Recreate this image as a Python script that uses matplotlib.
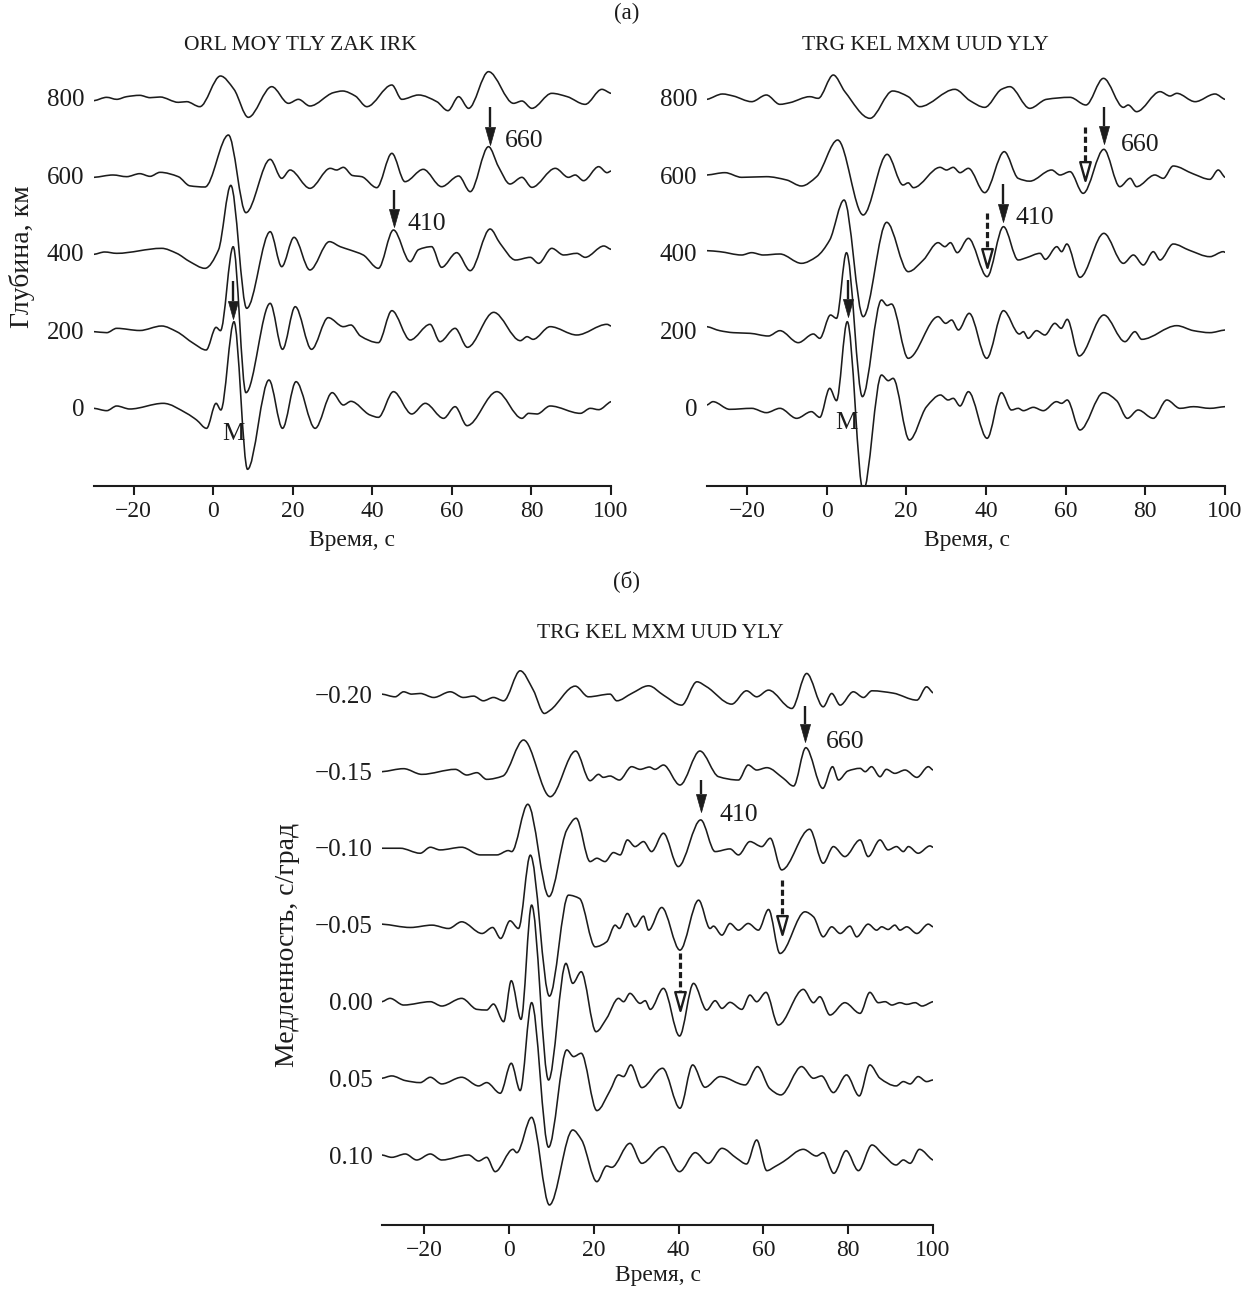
import numpy as np
import matplotlib
matplotlib.use("Agg")
import matplotlib.pyplot as plt
from matplotlib.path import Path
from matplotlib.patches import PathPatch

plt.rcParams['font.family'] = ['Liberation Serif', 'DejaVu Serif']
plt.rcParams['axes.unicode_minus'] = True

# ---------------- data ----------------
time_ticks = [-20, 0, 20, 40, 60, 80, 100]
depth_levels = [0, 200, 400, 600, 800]
slowness_levels = [-0.20, -0.15, -0.10, -0.05, 0.00, 0.05, 0.10]
title_left = "ORL MOY TLY ZAK IRK"
title_right = "TRG KEL MXM UUD YLY"

# panel (a) left: ORL MOY TLY ZAK IRK  (time s, relative amplitude)
orl_800_t = [-30, -26.8, -24.3, -21.8, -18.5, -15.9, -13.4, -8.8, -6.7, -3.4, 1.8, 5.2, 8.8, 14.7, 18.9, 21.4, 24.3, 30.2, 32.5, 35.7, 38.6, 44.9, 47.4, 51.6, 56.2, 59.0, 61.7, 64.2, 69.2, 75.5, 77.6, 80.1, 85.1, 89.0, 93.5, 97.7, 100]
orl_800_amp = [-8, 2, -4, 4, 8, 1, 3, -13, -11, -26, 66, 26, -58, 34, -16, -4, -24, 16, 21, 6, -26, 39, -4, 9, -11, -38, 4, -31, 79, -16, -9, -31, 14, 4, -19, 26, 14]
orl_600_t = [-30, -25.2, -21.8, -18.5, -15.9, -13.4, -8.8, -5.9, -2.1, 3.8, 8.2, 14.3, 17.2, 19.3, 24.3, 29.4, 31.0, 32.7, 35.0, 37.3, 41.1, 44.9, 48.2, 52.8, 57.4, 61.7, 64.6, 69.2, 71.7, 74.6, 77.6, 80.1, 86.0, 89.3, 91.0, 93.1, 96.9, 99.0, 100]
orl_600_amp = [-5.5, 1.5, -3.5, 5.5, -2.5, 9.5, -3.5, -31, -34.5, 121.5, -111.5, 48.5, -8.5, 16.5, -38.5, 21.5, 16.5, 24.5, 0, -3.5, -36.5, 66.5, -18.5, 18.5, -33.5, -1.5, -48.5, 86.5, 26.5, -25.5, -5.5, -35.5, 21.5, -5.5, 1.5, -15.5, 26.5, 8.5, 13.5]
orl_400_t = [-30, -27.3, -24.3, -13.0, -9.2, -5.9, -2.1, 1.3, 4.4, 8.4, 14.3, 17.2, 20.3, 24.3, 29.2, 31.9, 34.4, 37.7, 41.5, 45.3, 49.5, 51.6, 54.9, 57.4, 61.2, 64.6, 69.6, 72.1, 76.0, 79.7, 81.8, 85.1, 88.1, 91.4, 93.5, 98.2, 100]
orl_400_amp = [-4, 3, -1, 14, -1, -26, -46, 9, 203, -166, 64, -41, 47, -51, 34, 19, 9, -6, -46, 69, -26, 10, 19, -43, 1, -53, 72, 29, -21, -13, -31, 14, -6, -1, -13, 21, 11]
orl_200_t = [-30, -26.8, -24.3, -18.5, -13.0, -9.2, -5.0, -1.8, 0.7, 1.8, 5.0, 8.2, 14.3, 17.4, 20.6, 24.7, 28.9, 32.7, 34.6, 37.0, 41.5, 44.9, 49.5, 54.5, 57.0, 60.8, 63.9, 70.5, 77.2, 78.9, 80.4, 84.7, 91.4, 99.0, 100]
orl_200_amp = [-3.5, -6.5, 6.5, 0, 13.5, -3.5, -38.5, -58.5, 9.5, -0.5, 251.5, -186.5, 81.5, -56.5, 71.5, -56.5, 38.5, 11.5, 16.5, -16.5, -36.5, 59.5, -28.5, 18.5, -33.5, 6.5, -50.5, 54.5, -30.5, -18.5, -26.5, 11.5, -13.5, 18.5, 13.5]
orl_0_t = [-30, -26.8, -24.3, -21.0, -12.6, -6.7, -4.2, -1.7, 0.7, 1.9, 5.2, 8.6, 14.0, 17.4, 20.8, 25.6, 29.9, 32.7, 34.6, 39.4, 41.5, 45.3, 49.9, 53.3, 57.9, 60.8, 63.8, 71.3, 77.6, 79.3, 81.4, 84.7, 92.3, 94.8, 96.9, 100]
orl_0_amp = [-1, -8, 6, -3, 14, -16, -36, -61, 14, -6, 259, -184, 84, -61, 79, -61, 46, 9, 20, -21, -28, 49, -18, 14, -31, 4, -53, 49, -31, -16, -18, 6, -16, -1, -5, 19]

# panel (a) right: TRG KEL MXM UUD YLY
trg_800_t = [-30, -26.1, -23.4, -18.8, -15.1, -11.7, -9.2, -4.2, -2.1, 1.7, 4.6, 10.9, 16.6, 20.5, 23.4, 32.2, 36.0, 39.7, 43.9, 46.0, 51.0, 55.2, 61.1, 65.1, 69.5, 74.5, 75.7, 77.8, 83.7, 86.2, 87.9, 92.5, 97.5, 100]
trg_800_amp = [-4, 12, 6, -11, 9, -19, -14, 4, -1, 69, 19, -61, 21, 4, -26, 26, -8, -28, 26, 34, -31, -4, 2, -21, 59, -28, -21, -41, 19, 6, 14, -11, 12, -4]
trg_600_t = [-30, -25.5, -21.3, -15.1, -10.0, -6.3, -2.5, 2.8, 9.2, 15.2, 19.2, 20.5, 21.8, 28.5, 30.1, 31.8, 33.5, 35.6, 39.7, 44.6, 48.1, 51.0, 56.5, 58.6, 61.1, 64.4, 69.6, 73.6, 76.2, 77.8, 82.4, 84.5, 87.0, 92.1, 96.2, 98.3, 100]
trg_600_amp = [1.5, 8.5, -5.5, -3.5, -13.5, -31.5, -3.5, 106.5, -118.5, 63.5, -28.5, -22, -36.5, 24.5, 16.5, 24.5, 8.5, 21.5, -51.5, 71.5, -8.5, -17, 16.5, 1.5, 11.5, -53.5, 78.5, -33.5, -8.5, -33.5, 1.5, -8.5, 28.5, 4.5, -11.5, 16.5, -5.5]
trg_400_t = [-30, -26.8, -21.3, -18.8, -15.9, -11.7, -6.3, -2.5, 0.8, 4.4, 9.2, 15.1, 20.5, 24.3, 28.0, 29.7, 31.1, 32.8, 35.6, 40.3, 44.4, 48.1, 50.2, 53.6, 54.9, 57.8, 59.0, 60.3, 63.6, 69.6, 74.5, 77.0, 79.5, 82.0, 83.7, 87.0, 91.1, 96.2, 99.6, 100]
trg_400_amp = [7, 4, -6, 1, -6, -3, -31, -11, 39, 159, -191, 92, -56, -21, 31, 19, 31, 1, 44, -71, 79, -21, -14, -1, -19, 19, 4, 27, -73, 59, -31, -6, -36, 4, -21, 27, 8, -11, 4, 2]
trg_200_t = [-30, -26.8, -23.4, -19.2, -14.6, -11.7, -7.1, -3.3, -1.7, 1.0, 2.5, 5.0, 9.0, 13.8, 15.2, 16.3, 20.5, 28.0, 29.9, 31.4, 33.1, 35.8, 40.2, 44.4, 48.4, 49.4, 50.6, 52.7, 54.8, 57.3, 58.9, 60.4, 63.4, 69.6, 74.9, 77.4, 79.1, 87.9, 92.1, 96.2, 100]
trg_200_amp = [11.5, -0.5, -6.5, -8.5, -16.5, -0.5, -36.5, -10.5, -23.5, 46.5, 36.5, 233.5, -198.5, 91.5, 75, 79.5, -83.5, 41.5, 21.5, 31.5, 1.5, 51.5, -83.5, 59.5, -10.5, -3.5, -23.5, -0.5, -13.5, 21.5, 6.5, 33.5, -76.5, 46.5, -33.5, -3.5, -26.5, 14.5, -0.5, -6.5, 1.5]
trg_0_t = [-30, -28.5, -24.3, -18.8, -15.1, -11.7, -7.5, -3.8, -1.7, 0.8, 2.5, 5.2, 9.2, 13.8, 15.5, 16.7, 20.8, 25.1, 28.6, 30.5, 31.8, 33.5, 35.6, 40.3, 43.9, 46.4, 48.1, 49.4, 51.9, 54.4, 57.7, 59.0, 60.4, 63.6, 69.5, 72.8, 75.5, 78.2, 82.0, 85.4, 88.7, 92.1, 96.2, 100]
trg_0_amp = [9, 19, -4, -1, -14, -1, -31, -11, -28, 59, 22, 259, -250, 99, 82, 89, -96, 4, 39, 24, 29, 6, 49, -91, 46, -6, -1, -8, 2, -8, 19, 14, 24, -66, 46, 22, -31, -6, -31, 24, -1, 4, -1, 4]

# panel (b): slowness stack TRG KEL MXM UUD YLY
slow_m20_t = [-30, -26.9, -24.9, -23.0, -21.0, -17.8, -13.9, -10.8, -8.4, -6.1, -3.7, -1.3, 2.6, 5.7, 8.3, 9.7, 15.6, 18.7, 23.8, 25.4, 28.9, 32.9, 36.4, 40.7, 44.3, 46.6, 52.5, 56.0, 58.4, 61.2, 66.7, 70.2, 74.1, 76.1, 78.1, 81.2, 83.6, 85.6, 90.6, 96.2, 98.5, 100]
slow_m20_amp = [0, -8, 7, 0, 2, -10, 7, -10, -6, -20, -10, -20, 70, 12, -58, -48, 24, -8, 0, -20, 2, 25, -3, -33, 37, 22, -30, 10, -8, 12, -43, 62, -38, 2, -33, 7, -10, 10, 3, -18, 22, 4]
slow_m15_t = [-30, -24.9, -20.6, -12.7, -10.0, -7.6, -5.3, -1.5, 3.4, 9.7, 15.7, 19.1, 21.1, 22.2, 23.8, 26.0, 28.9, 30.9, 33.1, 34.4, 36.4, 40.3, 45.0, 49.4, 54.1, 56.4, 58.4, 60.8, 64.7, 67.1, 70.0, 74.0, 76.3, 77.7, 79.9, 82.8, 84.0, 85.5, 87.5, 89.0, 91.0, 93.4, 96.2, 98.9, 100]
slow_m15_amp = [-2, 7, -10, 5, -12, -5, -25, -15, 93, -77, 60, -29, -10, -19, -15, -27, 13, 5, 12, 5, 18, -42, 60, -17, -27, 18, 3, 10, -22, -45, 70, -52, 13, -27, 0, 8, -2, 13, -17, 5, -7, 3, -19, 13, 3]
slow_m10_t = [-30, -25.7, -21.0, -18.6, -16.3, -11.2, -6.8, -2.9, -0.2, 0.6, 4.4, 9.4, 13.6, 15.8, 19.1, 20.7, 22.6, 24.6, 26.2, 27.9, 29.7, 31.7, 33.6, 36.4, 39.9, 45.2, 48.6, 52.1, 54.1, 56.8, 59.6, 61.6, 64.3, 70.9, 74.1, 76.5, 79.2, 82.8, 84.7, 87.5, 89.4, 91.4, 93.0, 94.2, 96.5, 99.3, 100]
slow_m10_amp = [-1, -1, -16, 2, -6, 2, -21, -21, -8, -11, 131, -146, 54, 89, -41, -31, -41, -14, -21, 24, 4, 19, -11, 44, -56, 84, -11, -3, -21, 19, 4, 29, -66, 56, -46, 4, -26, 24, -26, 24, -6, 4, -11, 4, -16, 6, 2]
slow_m05_t = [-30, -23.3, -18.2, -14.3, -11.2, -6.4, -3.9, -2.0, 0.2, 2.2, 5.0, 9.5, 14.0, 16.6, 20.3, 23.0, 25.0, 26.0, 27.9, 29.7, 31.7, 32.9, 36.0, 40.3, 44.7, 47.4, 48.2, 50.2, 52.1, 54.1, 56.4, 58.8, 61.2, 63.9, 69.8, 71.8, 74.1, 76.1, 78.1, 80.4, 82.0, 84.7, 86.7, 87.9, 89.4, 91.0, 92.2, 93.8, 96.2, 98.9, 100]
slow_m05_amp = [2, -8, -1, -11, 9, -26, -8, -41, 12, -11, 209, -214, 89, 79, -66, -51, -1, -11, 34, -6, 26, -16, 52, -76, 74, -11, -4, -31, 4, -16, 4, -16, 46, -86, 39, 24, -36, -6, -26, -4, -36, 2, -16, -6, -14, -1, -16, -6, -26, 2, -6]
slow_00_t = [-30, -28.1, -24.9, -18.6, -15.9, -11.2, -7.6, -5.3, -3.7, -1.3, 0.5, 2.8, 5.3, 9.3, 13.4, 15.0, 17.0, 20.5, 23.0, 25.8, 27.0, 28.5, 30.9, 32.1, 33.3, 36.4, 40.2, 43.5, 46.6, 48.6, 50.2, 52.1, 54.9, 56.8, 58.4, 60.6, 63.5, 69.4, 71.8, 73.3, 75.7, 79.2, 82.8, 85.1, 87.1, 88.7, 90.3, 92.2, 93.8, 95.8, 97.4, 100]
slow_00_amp = [0, 10, -10, 0, -13, 10, -23, -25, -7, -60, 63, -53, 290, -235, 115, 55, 90, -90, -50, 10, 0, 25, -5, 3, -23, 40, -103, 55, -25, 3, -20, -2, -23, 20, 0, 28, -70, 37, -3, 15, -40, -3, -35, 28, -3, 0, -10, -3, -8, -3, -13, 0]
slow_p05_t = [-30, -27.7, -24.5, -21.0, -18.6, -15.9, -11.2, -7.2, -5.3, -2.1, 0.5, 2.6, 5.3, 9.3, 13.6, 15.2, 17.0, 20.7, 23.8, 25.8, 27.0, 28.7, 31.3, 36.2, 40.3, 43.3, 46.2, 49.8, 55.7, 58.6, 61.5, 64.1, 69.0, 71.8, 73.7, 76.5, 79.6, 82.6, 85.1, 87.5, 91.3, 93.0, 94.6, 96.5, 98.5, 100]
slow_p05_amp = [1, 8, -6, -12, 4, -16, 4, -22, -12, -44, 46, -36, 228, -206, 86, 66, 76, -96, -36, 11, 6, 41, -27, 31, -89, 41, -26, 6, -19, 36, -30, -49, 36, 1, 8, -42, 11, -52, 41, 1, -22, -9, -16, 6, -9, -4]
slow_p10_t = [-30, -27.7, -24.5, -21.8, -18.6, -15.9, -9.6, -7.2, -5.3, -3.3, 0.9, 1.8, 5.3, 9.5, 15.0, 17.1, 20.7, 23.0, 24.2, 28.5, 31.3, 36.2, 40.2, 43.9, 47.0, 50.2, 53.7, 56.0, 58.4, 60.8, 62.7, 64.7, 69.4, 72.5, 74.1, 76.6, 79.5, 82.4, 85.6, 88.3, 91.3, 93.0, 94.6, 96.8, 100]
slow_p10_amp = [1.5, -5.5, 4.5, -13.5, 4.5, -13.5, 1.5, -16.5, -5.5, -48.5, 18.5, 8.5, 114.5, -148.5, 76.5, 46.5, -78.5, -31.5, -35.5, 36.5, -23.5, 26.5, -48.5, 8.5, -23.5, 21.5, -8.5, -25.5, 46.5, -45.5, -33.5, -18.5, 18.5, -1.5, 8.5, -53.5, 14.5, -45.5, 31.5, 1.5, -28.5, -13.5, -23.5, 18.5, -13.5]

orl_traces = [(0, orl_0_t, orl_0_amp), (200, orl_200_t, orl_200_amp), (400, orl_400_t, orl_400_amp),
              (600, orl_600_t, orl_600_amp), (800, orl_800_t, orl_800_amp)]
trg_traces = [(0, trg_0_t, trg_0_amp), (200, trg_200_t, trg_200_amp), (400, trg_400_t, trg_400_amp),
              (600, trg_600_t, trg_600_amp), (800, trg_800_t, trg_800_amp)]
slow_traces = [(-0.20, slow_m20_t, slow_m20_amp), (-0.15, slow_m15_t, slow_m15_amp),
               (-0.10, slow_m10_t, slow_m10_amp), (-0.05, slow_m05_t, slow_m05_amp),
               (0.00, slow_00_t, slow_00_amp), (0.05, slow_p05_t, slow_p05_amp),
               (0.10, slow_p10_t, slow_p10_amp)]

GAIN_DEPTH = 0.86        # km per amplitude unit
GAIN_SLOW = -2.167e-4    # s/deg per amplitude unit (axis inverted)
INK = '#1c1c1c'

# ---------------- helpers ----------------
def smooth_trace_path(t, y):
    """Monotone cubic Hermite (PCHIP-type) curve through the points as Bezier path."""
    t = np.asarray(t, float)
    y = np.asarray(y, float)
    assert len(t) == len(y)
    h = np.diff(t)
    d = np.diff(y) / h
    m = np.zeros_like(y)
    for k in range(1, len(t) - 1):
        if d[k - 1] * d[k] > 0:
            w1 = 2 * h[k] + h[k - 1]
            w2 = h[k] + 2 * h[k - 1]
            m[k] = (w1 + w2) / (w1 / d[k - 1] + w2 / d[k])
    m[0] = 0.5 * d[0]
    m[-1] = 0.5 * d[-1]
    verts = [(t[0], y[0])]
    codes = [Path.MOVETO]
    for k in range(len(t) - 1):
        hk = h[k]
        verts += [(t[k] + hk / 3, y[k] + m[k] * hk / 3),
                  (t[k + 1] - hk / 3, y[k + 1] - m[k + 1] * hk / 3),
                  (t[k + 1], y[k + 1])]
        codes += [Path.CURVE4] * 3
    return Path(verts, codes)


def draw_traces(ax, traces, gain):
    for base, t, amp in traces:
        y = base + gain * np.asarray(amp, float)
        ax.add_patch(PathPatch(smooth_trace_path(t, y), fill=False, lw=1.15,
                               ec=INK, joinstyle='round', capstyle='round'))


def style(ax, ylim, yticks, ylabels, ypad):
    ax.set_xlim(-30, 100)
    ax.set_ylim(*ylim)
    for s in ('left', 'right', 'top'):
        ax.spines[s].set_visible(False)
    ax.spines['bottom'].set_linewidth(1.5)
    ax.spines['bottom'].set_color(INK)
    ax.set_xticks(time_ticks)
    ax.tick_params(axis='x', direction='out', length=6.5, width=1.5, colors=INK,
                   labelsize=17, pad=4)
    ax.set_yticks(yticks)
    ax.set_yticklabels(ylabels)
    ax.tick_params(axis='y', length=0, labelsize=18, pad=ypad, colors=INK)
    ax.patch.set_alpha(0)


HEAD = Path([(-0.28, 0.5), (0.28, 0.5), (0.0, -0.5), (-0.28, 0.5)],
            [Path.MOVETO, Path.LINETO, Path.LINETO, Path.CLOSEPOLY])


def solid_arrow(ax, x, y_tail, y_tip, head_len):
    base = y_tip + head_len
    ax.plot([x, x], [y_tail, base], color=INK, lw=1.7, solid_capstyle='butt', zorder=5)
    ax.plot([x], [y_tip + head_len / 2], marker=HEAD, ms=13, mfc=INK, mec=INK, mew=0.5, zorder=6)


def dashed_arrow(ax, x, y_tail, y_tip, head_len):
    base = y_tip + head_len
    ax.plot([x, x], [y_tail, base], color=INK, lw=2.3, ls=(0, (1.9, 1.0)), zorder=5)
    ax.plot([x], [y_tip + head_len / 2], marker=HEAD, ms=13.5, mfc='white', mec=INK,
            mew=1.7, zorder=6)


# ---------------- figure ----------------
W, H = 1255, 1295
fig = plt.figure(figsize=(W / 100, H / 100), dpi=100)


def fx(px):
    return px / W


def fy(py):
    return 1 - py / H


depth_ylim = (-201.3, 880)
ax1 = fig.add_axes([fx(94), fy(486), fx(611) - fx(94), fy(67) - fy(486)])
ax2 = fig.add_axes([fx(707), fy(486), fx(1225) - fx(707), fy(67) - fy(486)])
ax3 = fig.add_axes([fx(382), fy(1225), fx(933) - fx(382), fy(640.3) - fy(1225)])

for ax, traces in ((ax1, orl_traces), (ax2, trg_traces)):
    style(ax, depth_ylim, depth_levels, [str(v) for v in depth_levels], 7)
    draw_traces(ax, traces, GAIN_DEPTH)

style(ax3, (0.1452, -0.235), slowness_levels,
      [f"{v:.2f}".replace('-', '\u2212') for v in slowness_levels], 7)
draw_traces(ax3, slow_traces, GAIN_SLOW)

# ---- annotations panel (a) left
hl = 45
solid_arrow(ax1, 5.0, 328, 231, hl)
solid_arrow(ax1, 45.5, 563, 468, hl)
solid_arrow(ax1, 69.5, 778, 679, hl)
ax1.text(48.8, 476, "410", fontsize=18.5, ha='left', va='center', color=INK)
ax1.text(73.4, 690, "660", fontsize=18.5, ha='left', va='center', color=INK)
ax1.text(5.0, -66, "M", fontsize=18, ha='center', va='center', color=INK)

# ---- annotations panel (a) right
solid_arrow(ax2, 5.4, 330, 236, hl)
solid_arrow(ax2, 44.3, 578, 481, hl)
solid_arrow(ax2, 69.6, 778, 683, hl)
dashed_arrow(ax2, 40.3, 502, 365, hl)
dashed_arrow(ax2, 64.9, 726, 588, hl)
ax2.text(47.3, 490, "410", fontsize=18.5, ha='left', va='center', color=INK)
ax2.text(73.8, 679, "660", fontsize=18.5, ha='left', va='center', color=INK)
ax2.text(5.1, -38, "M", fontsize=18, ha='center', va='center', color=INK)

# ---- annotations panel (b)
hs = -0.0115
solid_arrow(ax3, 45.2, -0.1442, -0.1235, hs)
solid_arrow(ax3, 69.8, -0.1920, -0.1692, hs)
dashed_arrow(ax3, 64.3, -0.0791, -0.0444, hs)
dashed_arrow(ax3, 40.3, -0.0315, 0.0054, hs)
ax3.text(49.6, -0.1214, "410", fontsize=18.5, ha='left', va='center', color=INK)
ax3.text(74.7, -0.1690, "660", fontsize=18.5, ha='left', va='center', color=INK)

# ---- figure texts
fs_lab = 17
fig.text(fx(627), fy(13), "(а)", ha='center', va='center', fontsize=16.5, color=INK)
fig.text(fx(627), fy(581), "(б)", ha='center', va='center', fontsize=16.5, color=INK)
fig.text(fx(300), fy(45), title_left, ha='center', va='center', fontsize=15.5, color=INK)
fig.text(fx(925), fy(45), title_right, ha='center', va='center', fontsize=15.5, color=INK)
fig.text(fx(660), fy(634), title_right, ha='center', va='center', fontsize=15.5, color=INK)
fig.text(fx(352), fy(541), "Время, с", ha='center', va='center', fontsize=fs_lab, color=INK)
fig.text(fx(967), fy(541), "Время, с", ha='center', va='center', fontsize=fs_lab, color=INK)
fig.text(fx(658), fy(1276), "Время, с", ha='center', va='center', fontsize=fs_lab, color=INK)
fig.text(fx(22), fy(257), "Глубина, км", ha='center', va='center', rotation=90,
         fontsize=20, color=INK)
fig.text(fx(287), fy(945), "Медленность, с/град", ha='center', va='center', rotation=90,
         fontsize=20, color=INK)

fig.savefig("out.png", dpi=100, facecolor='white')
